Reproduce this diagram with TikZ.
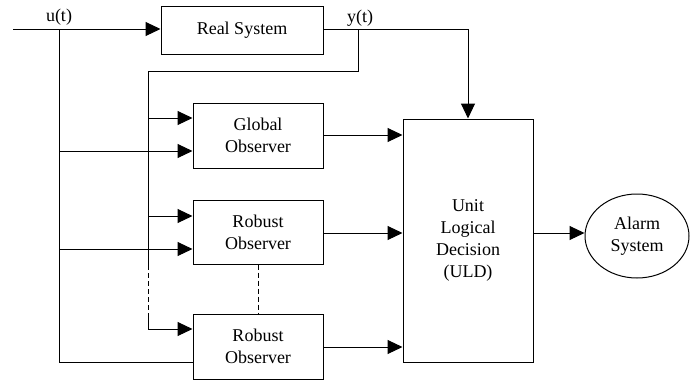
\documentclass[tikz,border=0pt]{standalone}
\usepackage{fontspec}
\setmainfont{Liberation Serif}
\usetikzlibrary{arrows.meta,shapes.geometric}
\begin{document}
\begin{tikzpicture}[x=1pt,y=-1pt,
  line width=1pt,
  arr/.style={-{Triangle[length=15pt,width=14pt]}},
  blk/.style={draw,rectangle,minimum width=130pt,align=center,font=\fontsize{18}{22}\selectfont,inner sep=0pt},
  lbl/.style={font=\fontsize{18}{22}\selectfont,inner sep=0pt},
  dsh/.style={dash pattern=on 5pt off 3pt}]
\useasboundingbox (0,0) rectangle (699,383);
\node[blk,minimum width=162pt,minimum height=48pt] (rs) at (242,30) {Real System};
\node[blk,minimum height=65pt] (go) at (258,135.5) {Global\\Observer};
\node[blk,minimum height=64pt] (r1) at (258,232) {Robust\\Observer};
\node[blk,minimum height=65pt] (r2) at (258,346.5) {Robust\\Observer};
\node[blk,minimum height=243pt] (uld) at (468,240.5) {Unit\\Logical\\Decision\\(ULD)};
\node[draw,ellipse,minimum width=104pt,minimum height=84pt,inner sep=0pt,align=center,font=\fontsize{18}{22}\selectfont] (al) at (637,236) {Alarm\\System};
\node[lbl] (ul) at (59,17) {u(t)};
\node[lbl] (yl) at (360,18) {y(t)};
\coordinate (in) at (13,29);
\coordinate (uj) at (59,29);
\coordinate (yj) at (358,29);
\coordinate (yc) at (468,29);
\coordinate (f1) at (358,71);
\coordinate (f2) at (148,71);
% input
\draw[arr] (in) -- (in -| rs.west);
\draw (uj) -- (59,362) -- (59,362 -| r2.west);
\draw[arr] (59,151) -- (59,151 -| go.west);
\draw[arr] (59,249) -- (59,249 -| r1.west);
% output y
\draw[arr] (rs.east |- yj) -- (yc) -- (uld.north);
\draw (yj) -- (f1) -- (f2) -- (148,265);
\draw[dsh] (148,265) -- (148,315);
\draw[arr] (148,315) -- (148,329) -- (148,329 -| r2.west);
\draw[arr] (148,118) -- (148,118 -| go.west);
\draw[arr] (148,216) -- (148,216 -| r1.west);
% observers to ULD
\draw[arr] (go.east |- 0,135) -- (uld.west |- 0,135);
\draw[arr] (r1.east |- 0,233) -- (uld.west |- 0,233);
\draw[arr] (r2.east |- 0,347) -- (uld.west |- 0,347);
\draw[dsh] (r1.south) -- (r2.north);
\draw[arr] (uld.east |- 0,233) -- (al.west |- 0,233);
\end{tikzpicture}
\end{document}
